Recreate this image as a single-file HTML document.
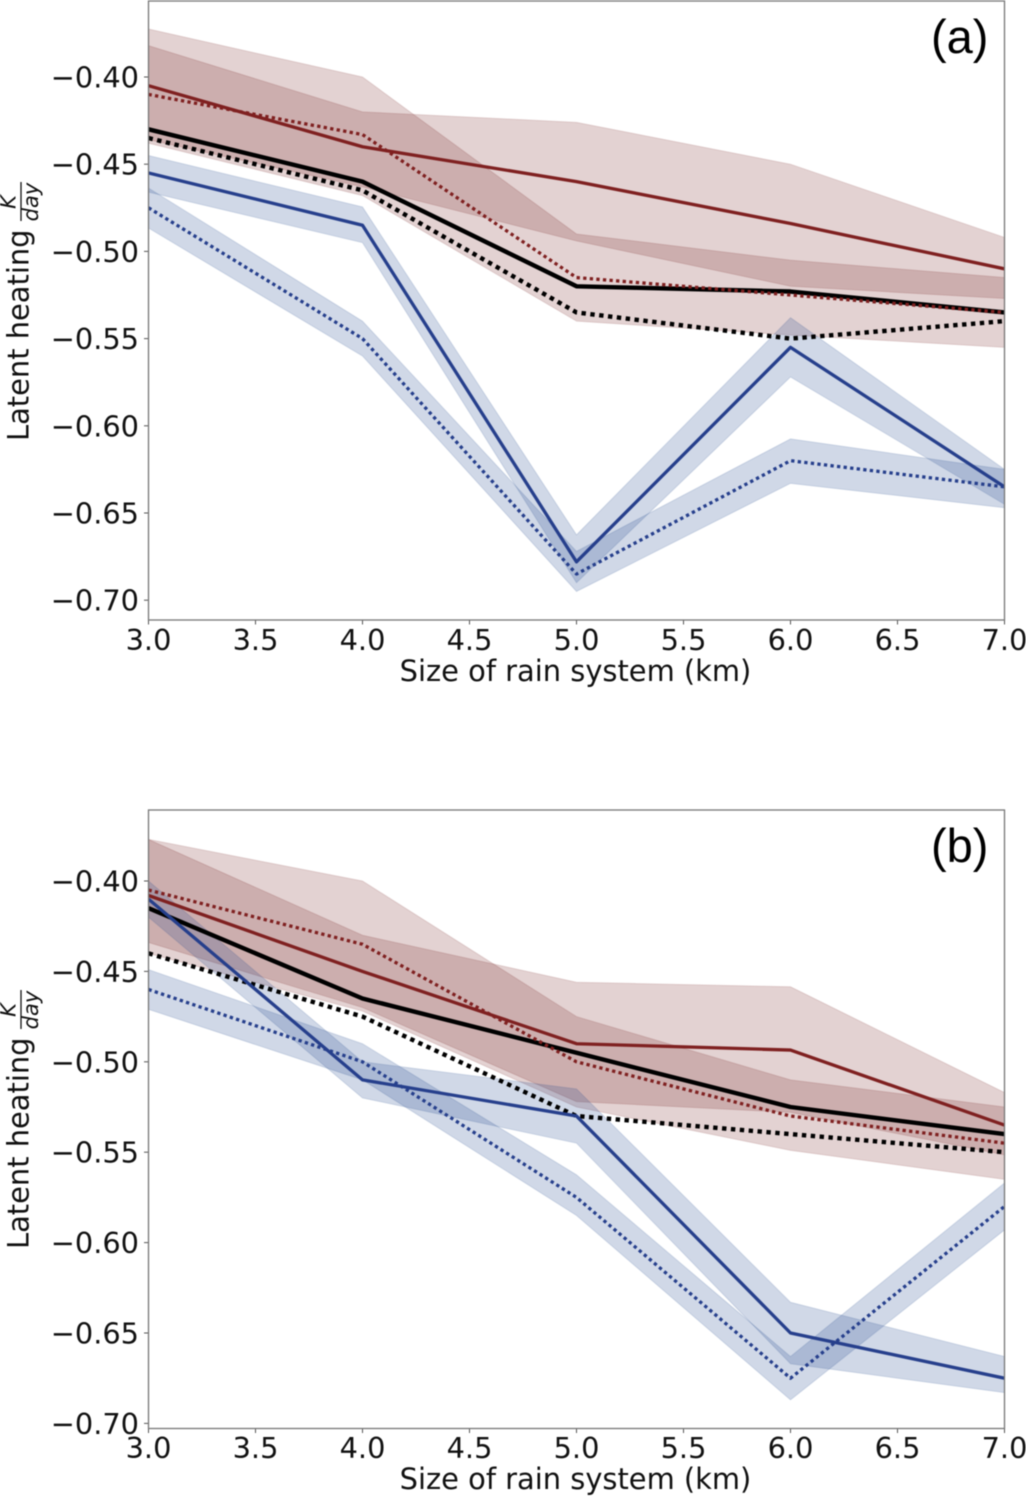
<!DOCTYPE html>
<html lang="en">
<head>
<meta charset="utf-8">
<title>Latent heating vs size of rain system</title>
<style>
html,body{margin:0;padding:0;background:#fff;}
#figure{display:block;width:1026px;height:1496px;filter:blur(0.4px);}
text{font-family:"DejaVu Sans",sans-serif;fill:#111;}
.tick{font-size:28.8px;}
.axis-title{font-size:28.9px;}
.frac{font-size:21px;font-style:italic;}
.panel-letter{font-family:"Liberation Sans",sans-serif;font-size:47px;fill:#000;}
</style>
</head>
<body>
<svg id="figure" xmlns="http://www.w3.org/2000/svg" width="1026" height="1496" viewBox="0 0 1026 1496">
  <rect x="0" y="0" width="1026" height="1496" fill="#fff"/>
  <defs>
    <clipPath id="clip-a"><rect x="148.5" y="1" width="856" height="619"/></clipPath>
    <clipPath id="clip-b"><rect x="148.5" y="810" width="856" height="618.5"/></clipPath>
  </defs>
  <g id="panel-a">
    <g id="marks-a" clip-path="url(#clip-a)"></g>
    <g id="axes-a"></g>
    <text class="axis-title" x="575.5" y="681" text-anchor="middle">Size of rain system (km)</text>
    <g>
      <text class="axis-title" transform="translate(28.5,441) rotate(-90)">Latent heating</text>
      <text class="frac" transform="translate(15.5,202) rotate(-90)" text-anchor="middle">K</text>
      <line x1="21" y1="182" x2="21" y2="221" stroke="#111" stroke-width="1.3"/>
      <text class="frac" transform="translate(38,202) rotate(-90)" text-anchor="middle">day</text>
    </g>
    <text class="panel-letter" x="931" y="53">(a)</text>
  </g>
  <g id="panel-b">
    <g id="marks-b" clip-path="url(#clip-b)"></g>
    <g id="axes-b"></g>
    <text class="axis-title" x="575.5" y="1489" text-anchor="middle">Size of rain system (km)</text>
    <g>
      <text class="axis-title" transform="translate(28.5,1249) rotate(-90)">Latent heating</text>
      <text class="frac" transform="translate(15.5,1010) rotate(-90)" text-anchor="middle">K</text>
      <line x1="21" y1="990" x2="21" y2="1029" stroke="#111" stroke-width="1.3"/>
      <text class="frac" transform="translate(38,1010) rotate(-90)" text-anchor="middle">day</text>
    </g>
    <text class="panel-letter" x="931" y="862">(b)</text>
  </g>
</svg>
<script>
// Shared data
const sizes = [3, 4, 5, 6, 7];
const xTickValues = [3, 3.5, 4, 4.5, 5, 5.5, 6, 6.5, 7];
const xTickLabels = ["3.0", "3.5", "4.0", "4.5", "5.0", "5.5", "6.0", "6.5", "7.0"];
const yTickValues = [-0.40, -0.45, -0.50, -0.55, -0.60, -0.65, -0.70];
const yTickLabels = ["\u22120.40", "\u22120.45", "\u22120.50", "\u22120.55", "\u22120.60", "\u22120.65", "\u22120.70"];

// Panel (a) lines
const aRedSolid = [-0.405, -0.44, -0.46, -0.484, -0.51];
const aRedDotted = [-0.41, -0.433, -0.515, -0.525, -0.535];
const aBlackSolid = [-0.43, -0.46, -0.52, -0.523, -0.535];
const aBlackDotted = [-0.435, -0.465, -0.535, -0.55, -0.54];
const aBlueSolid = [-0.455, -0.485, -0.678, -0.555, -0.635];
const aBlueDotted = [-0.475, -0.55, -0.685, -0.62, -0.635];

// Panel (a) bands
const aRedSolidUpper = [-0.382, -0.42, -0.426, -0.45, -0.492];
const aRedSolidLower = [-0.436, -0.463, -0.494, -0.52, -0.527];
const aRedDottedUpper = [-0.3725, -0.40, -0.49, -0.505, -0.515];
const aRedDottedLower = [-0.438, -0.468, -0.54, -0.548, -0.555];
const aBlueSolidUpper = [-0.445, -0.4745, -0.6625, -0.538, -0.625];
const aBlueSolidLower = [-0.466, -0.495, -0.69, -0.572, -0.645];
const aBlueDottedUpper = [-0.4637, -0.54, -0.672, -0.6075, -0.625];
const aBlueDottedLower = [-0.4866, -0.56, -0.695, -0.633, -0.647];

// Panel (b) lines
const bRedSolid = [-0.408, -0.45, -0.49, -0.4935, -0.535];
const bRedDotted = [-0.405, -0.435, -0.50, -0.53, -0.545];
const bBlackSolid = [-0.415, -0.465, -0.495, -0.525, -0.54];
const bBlackDotted = [-0.44, -0.475, -0.53, -0.54, -0.55];
const bBlueSolid = [-0.41, -0.51, -0.53, -0.65, -0.675];
const bBlueDotted = [-0.46, -0.50, -0.575, -0.675, -0.58];

// Panel (b) bands
const bRedSolidUpper = [-0.377, -0.43, -0.456, -0.4585, -0.517];
const bRedSolidLower = [-0.434, -0.47, -0.522, -0.528, -0.5515];
const bRedDottedUpper = [-0.377, -0.40, -0.475, -0.51, -0.525];
const bRedDottedLower = [-0.44, -0.472, -0.525, -0.549, -0.565];
const bBlueSolidUpper = [-0.40, -0.50, -0.515, -0.633, -0.663];
const bBlueSolidLower = [-0.42, -0.52, -0.545, -0.667, -0.683];
const bBlueDottedUpper = [-0.449, -0.49, -0.5625, -0.663, -0.567];
const bBlueDottedLower = [-0.471, -0.51, -0.585, -0.687, -0.593];

const SVGNS = "http://www.w3.org/2000/svg";
const RED = "#7f2020";
const BLUE = "#263f8c";
const BLACK = "#000000";
const RED_FILL = "#752020";
const BLUE_FILL = "#2a4c90";

const LEFT = 148.5;
const RIGHT = 1004.5;
function xScale(v) { return LEFT + (v - 3) / 4 * (RIGHT - LEFT); }
function yScaleA(v) { return 77 + (-0.40 - v) * 1744; }
function yScaleB(v) { return 881 + (-0.40 - v) * 1808; }

function el(tag, attrs) {
  const node = document.createElementNS(SVGNS, tag);
  for (const k in attrs) node.setAttribute(k, attrs[k]);
  return node;
}
function linePath(values, yScale) {
  return sizes.map((s, i) => (i ? "L" : "M") + xScale(s).toFixed(2) + " " + yScale(values[i]).toFixed(2)).join(" ");
}
function bandPath(upper, lower, yScale) {
  const top = sizes.map((s, i) => (i ? "L" : "M") + xScale(s).toFixed(2) + " " + yScale(upper[i]).toFixed(2));
  const bot = sizes.slice().reverse().map((s, i) => "L" + xScale(s).toFixed(2) + " " + yScale(lower[sizes.length - 1 - i]).toFixed(2));
  return top.concat(bot).join(" ") + " Z";
}

function drawBand(parent, name, upper, lower, yScale, color, opacity) {
  const p = el("path", {d: bandPath(upper, lower, yScale), fill: color, "fill-opacity": opacity, stroke: color, "stroke-opacity": opacity * 0.7, "stroke-width": 1});
  
  
  parent.appendChild(p);
}
function drawLine(parent, name, values, yScale, color, width, dash) {
  const p = el("path", {d: linePath(values, yScale), fill: "none", stroke: color, "stroke-width": width, "stroke-linejoin": "round"});
  if (dash) p.setAttribute("stroke-dasharray", dash);
  
  
  parent.appendChild(p);
}

function drawAxes(parent, top, bottom, yScale, tickBaseline, suffix) {
  xTickValues.forEach((v, i) => {
    const x = xScale(v);
    const t = el("line", {x1: x, x2: x, y1: bottom, y2: bottom + 4.5, stroke: "#555", "stroke-width": 1});
    
    
    parent.appendChild(t);
    const l = el("text", {x: x, y: tickBaseline, "text-anchor": "middle", class: "tick"});
    l.textContent = xTickLabels[i];
    
    
    parent.appendChild(l);
  });
  yTickValues.forEach((v, i) => {
    const y = yScale(v);
    const t = el("line", {x1: LEFT - 4.5, x2: LEFT, y1: y, y2: y, stroke: "#555", "stroke-width": 1});
    
    
    parent.appendChild(t);
    const l = el("text", {x: 139, y: y + 10.5, "text-anchor": "end", class: "tick"});
    l.textContent = yTickLabels[i];
    
    
    parent.appendChild(l);
  });
  const frame = el("rect", {x: LEFT, y: top, width: RIGHT - LEFT, height: bottom - top, fill: "none", stroke: "#777", "stroke-width": 1.3});
  
  
  parent.appendChild(frame);
}

const marksA = document.getElementById("marks-a");
drawBand(marksA, "band-red-solid-a", aRedSolidUpper, aRedSolidLower, yScaleA, RED_FILL, 0.2);
drawBand(marksA, "band-red-dotted-a", aRedDottedUpper, aRedDottedLower, yScaleA, RED_FILL, 0.2);
drawBand(marksA, "band-blue-solid-a", aBlueSolidUpper, aBlueSolidLower, yScaleA, BLUE_FILL, 0.22);
drawBand(marksA, "band-blue-dotted-a", aBlueDottedUpper, aBlueDottedLower, yScaleA, BLUE_FILL, 0.22);
drawLine(marksA, "line-black-solid-a", aBlackSolid, yScaleA, BLACK, 4.4);
drawLine(marksA, "line-black-dotted-a", aBlackDotted, yScaleA, BLACK, 4.4, "4.4 4.5");
drawLine(marksA, "line-red-solid-a", aRedSolid, yScaleA, RED, 3.3);
drawLine(marksA, "line-red-dotted-a", aRedDotted, yScaleA, RED, 3.3, "3.3 3.3");
drawLine(marksA, "line-blue-solid-a", aBlueSolid, yScaleA, BLUE, 3.3);
drawLine(marksA, "line-blue-dotted-a", aBlueDotted, yScaleA, BLUE, 3.3, "3.3 3.3");
drawAxes(document.getElementById("axes-a"), 1, 620, yScaleA, 650, "a");

const marksB = document.getElementById("marks-b");
drawBand(marksB, "band-red-solid-b", bRedSolidUpper, bRedSolidLower, yScaleB, RED_FILL, 0.2);
drawBand(marksB, "band-red-dotted-b", bRedDottedUpper, bRedDottedLower, yScaleB, RED_FILL, 0.2);
drawBand(marksB, "band-blue-solid-b", bBlueSolidUpper, bBlueSolidLower, yScaleB, BLUE_FILL, 0.22);
drawBand(marksB, "band-blue-dotted-b", bBlueDottedUpper, bBlueDottedLower, yScaleB, BLUE_FILL, 0.22);
drawLine(marksB, "line-black-solid-b", bBlackSolid, yScaleB, BLACK, 4.4);
drawLine(marksB, "line-black-dotted-b", bBlackDotted, yScaleB, BLACK, 4.4, "4.4 4.5");
drawLine(marksB, "line-red-solid-b", bRedSolid, yScaleB, RED, 3.3);
drawLine(marksB, "line-red-dotted-b", bRedDotted, yScaleB, RED, 3.3, "3.3 3.3");
drawLine(marksB, "line-blue-solid-b", bBlueSolid, yScaleB, BLUE, 3.3);
drawLine(marksB, "line-blue-dotted-b", bBlueDotted, yScaleB, BLUE, 3.3, "3.3 3.3");
drawAxes(document.getElementById("axes-b"), 810, 1428.5, yScaleB, 1458, "b");
</script>
</body>
</html>
